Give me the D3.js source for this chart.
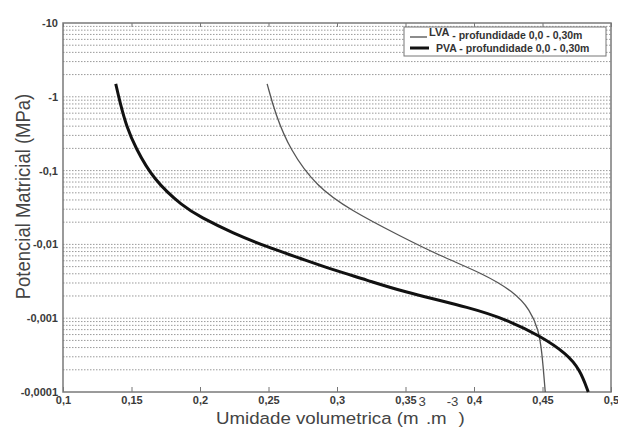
<!DOCTYPE html>
<html><head><meta charset="utf-8">
<script src="https://cdn.jsdelivr.net/npm/d3@7"></script>
<style>body{margin:0;background:#fff} svg{display:block}</style>
</head><body>
<svg id="c" width="618" height="429"></svg>
<script>
// Data (volumetric moisture m3/m3, matric potential MPa)
const lvaTheta = [0.249, 0.2548, 0.2657, 0.2852, 0.3097, 0.346, 0.3752, 0.4068, 0.4288, 0.441, 0.447, 0.4495, 0.452];
const lvaPsi   = [-1.5, -0.6, -0.19, -0.0605, -0.0292, -0.0130, -0.0070, -0.0040, -0.0023, -0.0013, -0.0007, -0.00037, -0.0001];
const pvaTheta = [0.1385, 0.1417, 0.1465, 0.1526, 0.166, 0.1878, 0.2, 0.2243, 0.2487, 0.273, 0.2973, 0.3217, 0.346, 0.3995, 0.424, 0.448, 0.4677, 0.4774, 0.4834];
const pvaPsi   = [-1.5, -0.82, -0.39, -0.21, -0.075, -0.0324, -0.0237, -0.0141, -0.0093, -0.0065, -0.0045, -0.0033, -0.00234, -0.00136, -0.00095, -0.00058, -0.00033, -0.0002, -0.0001];
const seriesNames = ["LVA", "PVA"];
const legendSuffix = " - profundidade 0,0 - 0,30m";
const xTicks = [0.1, 0.15, 0.2, 0.25, 0.3, 0.35, 0.4, 0.45, 0.5];
const xTickLabels = ["0,1", "0,15", "0,2", "0,25", "0,3", "0,35", "0,4", "0,45", "0,5"];
const yTicks = [-10, -1, -0.1, -0.01, -0.001, -0.0001];
const yTickLabels = ["-10", "-1", "-0,1", "-0,01", "-0,001", "-0,0001"];
const xTitle = "Umidade volumetrica";
const yTitle = "Potencial Matricial (MPa)";

const L = 63, R = 611, T = 23, B = 392;
const svg = d3.select("#c");
const x = d3.scaleLinear().domain([0.1, 0.5]).range([L, R]);
const y = d3.scaleLog().domain([-0.0001, -10]).range([B, T]);

// minor/major horizontal grid
const gridVals = [];
for (let k = -4; k <= 0; k++) for (let m = 1; m <= 9; m++) {
  const v = -m * Math.pow(10, k);
  if (v > -10 && v < -0.0001) gridVals.push(v);
}
svg.append("g").selectAll("line").data(gridVals).join("line")
  .attr("x1", L).attr("x2", R)
  .attr("y1", d => y(d)).attr("y2", d => y(d))
  .attr("stroke", "#9a9a9a").attr("stroke-width", 1)
  .attr("stroke-dasharray", "1.5,1.5");

// axes
const fontTick = "bold 11px 'Liberation Sans', Arial, sans-serif";
const gx = svg.append("g").attr("transform", `translate(0,${B})`)
  .call(d3.axisBottom(x).tickValues(xTicks).tickFormat((d, i) => xTickLabels[i]).tickSize(-5).tickPadding(4));
gx.select(".domain").remove();
gx.selectAll("line").attr("stroke", "#777");
gx.selectAll("text").attr("fill", "#3a3a3a").style("font", fontTick);

const gt = svg.append("g").attr("transform", `translate(0,${T})`)
  .call(d3.axisTop(x).tickValues(xTicks).tickFormat("").tickSize(-4));
gt.select(".domain").remove();
gt.selectAll("line").attr("stroke", "#777");

const gy = svg.append("g").attr("transform", `translate(${L},0)`)
  .call(d3.axisLeft(y).tickValues(yTicks).tickFormat((d, i) => yTickLabels[i]).tickSize(0).tickPadding(5));
gy.select(".domain").remove();
gy.selectAll("text").attr("fill", "#3a3a3a").style("font", fontTick);

// frame
svg.append("rect").attr("x", L).attr("y", T).attr("width", R - L).attr("height", B - T)
  .attr("fill", "none").attr("stroke", "#7a7a7a").attr("stroke-width", 1.5);

// curves
const line = d3.line().x(d => x(d[0])).y(d => y(d[1])).curve(d3.curveBasis);
const lva = lvaTheta.map((t, i) => [t, lvaPsi[i]]);
const pva = pvaTheta.map((t, i) => [t, pvaPsi[i]]);
svg.append("path").attr("d", line(lva)).attr("fill", "none").attr("stroke", "#555").attr("stroke-width", 1.3);
svg.append("path").attr("d", line(pva)).attr("fill", "none").attr("stroke", "#111").attr("stroke-width", 3);

// legend
const lg = svg.append("g");
lg.append("rect").attr("x", 404).attr("y", 27).attr("width", 202).attr("height", 29)
  .attr("fill", "#fff").attr("stroke", "#777").attr("stroke-width", 1);
const fontLeg = "bold 10.5px 'Liberation Sans', Arial, sans-serif";
lg.append("line").attr("x1", 410).attr("x2", 427).attr("y1", 37).attr("y2", 37).attr("stroke", "#666").attr("stroke-width", 1.5);
const t1 = lg.append("text").attr("x", 429).attr("y", 36).attr("fill", "#333").style("font", fontLeg);
t1.append("tspan").style("font-size", "11px").text(seriesNames[0]);
t1.append("tspan").attr("dy", 3).text(legendSuffix);
lg.append("line").attr("x1", 410).attr("x2", 429).attr("y1", 48).attr("y2", 48).attr("stroke", "#111").attr("stroke-width", 3);
lg.append("text").attr("x", 436).attr("y", 51.5).attr("fill", "#333").style("font", fontLeg)
  .text(seriesNames[1] + legendSuffix);

// axis titles
const fontTitle = "17px 'Liberation Sans', Arial, sans-serif";
const xt = svg.append("text").attr("transform", "translate(216,423.5) scale(1.1,1)")
  .attr("text-anchor", "start").attr("fill", "#444").style("font", fontTitle);
xt.append("tspan").text(xTitle + " (m");
xt.append("tspan").attr("dy", -18).style("font-size", "12px").text("3");
xt.append("tspan").attr("dy", 18).text(".m");
xt.append("tspan").attr("dy", -18).style("font-size", "12px").text("-3");
xt.append("tspan").attr("dy", 18).text(")");

svg.append("text").attr("transform", "translate(30,196.5) scale(1.1,1) rotate(-90)")
  .attr("text-anchor", "middle").attr("fill", "#444").style("font", "18.5px 'Liberation Sans', Arial, sans-serif").text(yTitle);
</script>
</body></html>
